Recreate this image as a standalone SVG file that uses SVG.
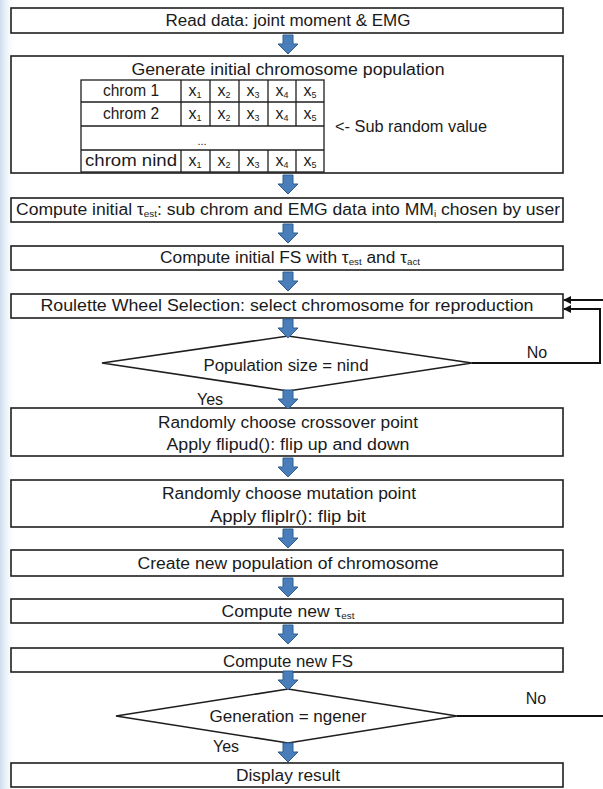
<svg xmlns="http://www.w3.org/2000/svg" width="603" height="789" viewBox="0 0 603 789">
<defs>
<linearGradient id="bg" x1="0" y1="0" x2="1" y2="0">
<stop offset="0" stop-color="#cddced"/>
<stop offset="1" stop-color="#ffffff" stop-opacity="0"/>
</linearGradient>
<path id="ba" d="M-5,0 H5 V9 H10 L0,19 L-10,9 H-5 Z"/>
<marker id="ah" viewBox="0 0 10 10" refX="9" refY="5" markerWidth="8" markerHeight="8" markerUnits="userSpaceOnUse" orient="auto">
<path d="M0,0 L10,5 L0,10 Z" fill="#111"/>
</marker>
<style>
.box{fill:#fff;stroke:#1e1e1e;stroke-width:1.6}
.cell{fill:#fff;stroke:#1e1e1e;stroke-width:1.3}
.t{font-family:"Liberation Sans",Arial,sans-serif;font-size:16px;fill:#1a1a1a;text-anchor:middle}
.tl{font-family:"Liberation Sans",Arial,sans-serif;font-size:16px;fill:#1a1a1a}
.sub{font-size:9px}
.blk use{fill:#4a7ebb;stroke:#2f5d8f;stroke-width:1}
.ln{fill:none;stroke:#111;stroke-width:2}
</style>
</defs>
<rect x="0" y="0" width="603" height="789" fill="#fff"/>
<rect x="0" y="0" width="16" height="789" fill="url(#bg)"/>

<g id="n1"><rect class="box" x="11" y="8" width="552" height="25"/><text class="t" x="288" y="26" textLength="245" lengthAdjust="spacingAndGlyphs">Read data: joint moment &amp; EMG</text></g>

<g id="n2"><rect class="box" x="11" y="56" width="552" height="117"/>
<text class="t" x="288" y="75" textLength="313" lengthAdjust="spacingAndGlyphs">Generate initial chromosome population</text>
<g id="table">
<rect class="cell" x="81" y="80" width="243" height="92"/>
<line class="cell" x1="81" y1="102" x2="324" y2="102"/>
<line class="cell" x1="81" y1="126" x2="324" y2="126"/>
<line class="cell" x1="81" y1="150" x2="324" y2="150"/>
<g class="cell">
<line x1="181" y1="80" x2="181" y2="126"/><line x1="210" y1="80" x2="210" y2="126"/><line x1="239" y1="80" x2="239" y2="126"/><line x1="268" y1="80" x2="268" y2="126"/><line x1="296" y1="80" x2="296" y2="126"/>
<line x1="181" y1="150" x2="181" y2="172"/><line x1="210" y1="150" x2="210" y2="172"/><line x1="239" y1="150" x2="239" y2="172"/><line x1="268" y1="150" x2="268" y2="172"/><line x1="296" y1="150" x2="296" y2="172"/>
</g>
<text class="t" x="131" y="96" textLength="56" lengthAdjust="spacingAndGlyphs">chrom 1</text>
<text class="t" x="131" y="119" textLength="56" lengthAdjust="spacingAndGlyphs">chrom 2</text>
<text class="t" x="202" y="145" style="font-size:11px">...</text>
<text class="t" x="131" y="166" textLength="92" lengthAdjust="spacingAndGlyphs">chrom nind</text>
<g class="t">
<text x="195" y="96">x<tspan class="sub" dy="2">1</tspan></text><text x="224" y="96">x<tspan class="sub" dy="2">2</tspan></text><text x="253" y="96">x<tspan class="sub" dy="2">3</tspan></text><text x="282" y="96">x<tspan class="sub" dy="2">4</tspan></text><text x="310" y="96">x<tspan class="sub" dy="2">5</tspan></text>
<text x="195" y="119">x<tspan class="sub" dy="2">1</tspan></text><text x="224" y="119">x<tspan class="sub" dy="2">2</tspan></text><text x="253" y="119">x<tspan class="sub" dy="2">3</tspan></text><text x="282" y="119">x<tspan class="sub" dy="2">4</tspan></text><text x="310" y="119">x<tspan class="sub" dy="2">5</tspan></text>
<text x="195" y="166">x<tspan class="sub" dy="2">1</tspan></text><text x="224" y="166">x<tspan class="sub" dy="2">2</tspan></text><text x="253" y="166">x<tspan class="sub" dy="2">3</tspan></text><text x="282" y="166">x<tspan class="sub" dy="2">4</tspan></text><text x="310" y="166">x<tspan class="sub" dy="2">5</tspan></text>
</g>
</g>
<text class="tl" x="335" y="132" textLength="152" lengthAdjust="spacingAndGlyphs">&lt;- Sub random value</text>
</g>

<g id="n3"><rect class="box" x="11" y="198" width="552" height="24"/><text class="t" x="288" y="215" textLength="544" lengthAdjust="spacingAndGlyphs">Compute initial τ<tspan class="sub" dy="2">est</tspan><tspan dy="-2">: sub chrom and EMG data into MM</tspan><tspan class="sub" dy="2">i</tspan><tspan dy="-2"> chosen by user</tspan></text></g>

<g id="n4"><rect class="box" x="11" y="246" width="552" height="24"/><text class="t" x="290" y="263" textLength="260" lengthAdjust="spacingAndGlyphs">Compute initial FS with τ<tspan class="sub" dy="2">est</tspan><tspan dy="-2"> and τ</tspan><tspan class="sub" dy="2">act</tspan></text></g>

<g id="n5"><rect class="box" x="11" y="294" width="552" height="24"/><text class="t" x="287" y="311" textLength="493" lengthAdjust="spacingAndGlyphs">Roulette Wheel Selection: select chromosome for reproduction</text></g>

<g id="d1"><polygon class="box" points="288,336 472,363 288,391 102,363"/><text class="t" x="286" y="371" textLength="165" lengthAdjust="spacingAndGlyphs">Population size = nind</text></g>

<g id="n6"><rect class="box" x="11" y="408" width="552" height="48"/><text class="t" x="288" y="428" textLength="260" lengthAdjust="spacingAndGlyphs">Randomly choose crossover point</text><text class="t" x="288" y="450" textLength="243" lengthAdjust="spacingAndGlyphs">Apply flipud(): flip up and down</text></g>

<g id="n7"><rect class="box" x="11" y="480" width="552" height="47"/><text class="t" x="289" y="499" textLength="254" lengthAdjust="spacingAndGlyphs">Randomly choose mutation point</text><text class="t" x="288" y="522" textLength="156" lengthAdjust="spacingAndGlyphs">Apply fliplr(): flip bit</text></g>

<g id="n8"><rect class="box" x="11" y="550" width="552" height="26"/><text class="t" x="288" y="569" textLength="301" lengthAdjust="spacingAndGlyphs">Create new population of chromosome</text></g>

<g id="n9"><rect class="box" x="11" y="599" width="552" height="24"/><text class="t" x="288" y="617" textLength="133" lengthAdjust="spacingAndGlyphs">Compute new τ<tspan class="sub" dy="2">est</tspan></text></g>

<g id="n10"><rect class="box" x="11" y="648" width="552" height="24"/><text class="t" x="288" y="667" textLength="130" lengthAdjust="spacingAndGlyphs">Compute new FS</text></g>

<g id="d2"><polygon class="box" points="288,689 457,716 288,743 116,716"/><text class="t" x="288" y="722" textLength="157" lengthAdjust="spacingAndGlyphs">Generation = ngener</text></g>

<g id="n11"><rect class="box" x="11" y="763" width="552" height="24"/><text class="t" x="288" y="781" textLength="104" lengthAdjust="spacingAndGlyphs">Display result</text></g>

<g id="connectors">
<g class="blk">
<use href="#ba" x="288" y="35"/>
<use href="#ba" x="288" y="175"/>
<use href="#ba" x="288" y="224"/>
<use href="#ba" x="288" y="272"/>
<use href="#ba" x="288" y="319"/>
<use href="#ba" x="288" y="390"/>
<use href="#ba" x="288" y="458"/>
<use href="#ba" x="288" y="529"/>
<use href="#ba" x="288" y="578"/>
<use href="#ba" x="288" y="625"/>
<use href="#ba" x="288" y="671"/>
<use href="#ba" x="288" y="743"/>
</g>
<polyline class="ln" points="472,363 600,363 600,309 564,309" marker-end="url(#ah)"/>
<line class="ln" x1="603" y1="300" x2="564" y2="300" marker-end="url(#ah)"/>
<line class="ln" x1="457" y1="716" x2="603" y2="716"/>
<text class="t" x="537" y="358">No</text>
<text class="t" x="210" y="405">Yes</text>
<text class="t" x="536" y="704">No</text>
<text class="t" x="226" y="752">Yes</text>
</g>
</svg>
